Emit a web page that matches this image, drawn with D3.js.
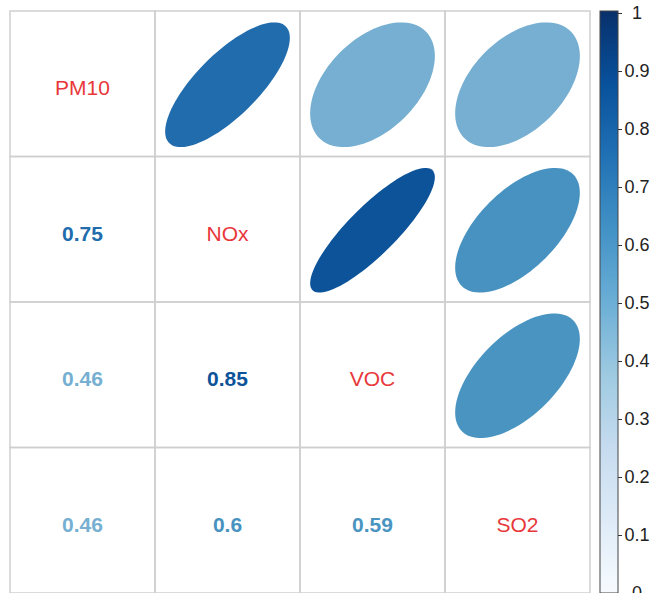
<!DOCTYPE html>
<html>
<head>
<meta charset="utf-8">
<script src="https://cdn.jsdelivr.net/npm/d3@7"></script>
<style>
  body { margin: 0; background: #fff; }
  svg { display: block; font-family: Arial, "Liberation Sans", sans-serif; }
</style>
</head>
<body>
<svg id="canvas" width="651" height="593"></svg>
<script>
let variables = ['PM10', 'NOx', 'VOC', 'SO2'];
// upper triangle pairs (row, col) and their correlation
let pairRows = [0, 0, 0, 1, 1, 2];
let pairCols = [1, 2, 3, 2, 3, 3];
let pairValues = [0.75, 0.46, 0.46, 0.85, 0.6, 0.59];
let barTicks = [0, 0.1, 0.2, 0.3, 0.4, 0.5, 0.6, 0.7, 0.8, 0.9, 1];
let blues = ['#F7FBFF', '#DEEBF7', '#C6DBEF', '#9ECAE1', '#6BAED6', '#4292C6', '#2171B5', '#08519C', '#08306B'];

let canvas = d3.select('#canvas');

let color = d3.scaleLinear()
    .domain(d3.range(blues.length).map(i => i / (blues.length - 1)))
    .range(blues);

let x = d3.scaleBand().domain(d3.range(4)).range([10, 590]);
let y = d3.scaleBand().domain(d3.range(4)).range([11, 593]);

// grid
let cells = [];
for (let r = 0; r < 4; r++) {
    for (let c = 0; c < 4; c++) cells.push({r: r, c: c});
}
canvas.selectAll('rect.cell')
    .data(cells)
    .enter()
    .append('rect')
    .attr('class', 'cell')
    .attr('x', d => x(d.c))
    .attr('y', d => y(d.r))
    .attr('width', x.bandwidth())
    .attr('height', y.bandwidth())
    .attr('fill', 'none')
    .attr('stroke', '#cfcfcf')
    .attr('stroke-width', 1.5);

// ellipses (corrplot style)
let ellipse = (rho, size) => {
    let d = Math.acos(rho);
    let pts = d3.range(100).map(i => {
        let t = i / 100 * 2 * Math.PI;
        return [Math.cos(t + d / 2) / 2 * size, -Math.cos(t - d / 2) / 2 * size];
    });
    return d3.line().curve(d3.curveLinearClosed)(pts);
};

let pairs = pairValues.map((v, i) => ({r: pairRows[i], c: pairCols[i], v: v}));

canvas.selectAll('path.ell')
    .data(pairs)
    .enter()
    .append('path')
    .attr('class', 'ell')
    .attr('transform', d => 'translate(' + (x(d.c) + x.bandwidth() / 2) + ',' + (y(d.r) + y.bandwidth() / 2 + 1) + ')')
    .attr('d', d => ellipse(d.v, x.bandwidth() * 0.86))
    .attr('fill', d => d3.color(color(d.v)).darker(0.12));

// numbers in lower triangle
canvas.selectAll('text.num')
    .data(pairs)
    .enter()
    .append('text')
    .attr('class', 'num')
    .attr('x', d => x(d.r) + x.bandwidth() / 2)
    .attr('y', d => y(d.c) + y.bandwidth() / 2 + 4)
    .attr('dy', '0.36em')
    .attr('text-anchor', 'middle')
    .attr('font-size', 21)
    .attr('font-weight', 'bold')
    .attr('fill', d => d3.color(color(d.v)).darker(0.12))
    .text(d => d.v);

// diagonal labels
canvas.selectAll('text.lab')
    .data(variables)
    .enter()
    .append('text')
    .attr('class', 'lab')
    .attr('x', (d, i) => x(i) + x.bandwidth() / 2)
    .attr('y', (d, i) => y(i) + y.bandwidth() / 2 + 4)
    .attr('dy', '0.36em')
    .attr('text-anchor', 'middle')
    .attr('font-size', 21)
    .attr('fill', '#E8373A')
    .text(d => d);

// colour bar
let barY = d3.scaleLinear().domain([0, 1]).range([593, 13]);
let defs = canvas.append('defs');
let grad = defs.append('linearGradient')
    .attr('id', 'bar')
    .attr('x1', 0).attr('y1', 1).attr('x2', 0).attr('y2', 0);
grad.selectAll('stop')
    .data(blues)
    .enter()
    .append('stop')
    .attr('offset', (d, i) => i / (blues.length - 1))
    .attr('stop-color', d => d);

canvas.append('rect')
    .attr('x', 600)
    .attr('y', 11)
    .attr('width', 18)
    .attr('height', 582)
    .attr('fill', 'url(#bar)')
    .attr('stroke', '#444')
    .attr('stroke-width', 1);

let axis = canvas.append('g')
    .attr('transform', 'translate(618,0)')
    .call(d3.axisRight(barY).tickValues(barTicks).tickFormat(d => d).tickSize(4).tickSizeOuter(0));
axis.select('.domain').remove();
axis.selectAll('line').attr('stroke', '#333');
axis.selectAll('text')
    .attr('font-size', 18)
    .attr('font-family', 'Arial, "Liberation Sans", sans-serif')
    .attr('fill', '#222')
    .attr('text-anchor', 'middle')
    .attr('x', 19);
</script>
</body>
</html>
